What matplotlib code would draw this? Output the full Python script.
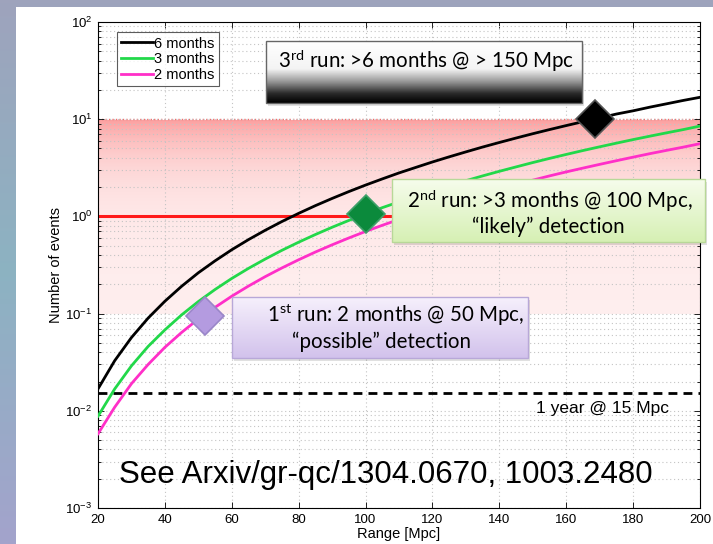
import numpy as np
import matplotlib
matplotlib.use("Agg")
import matplotlib.pyplot as plt
from matplotlib.patches import Rectangle
from matplotlib.ticker import LogLocator, NullFormatter

plt.rcParams['font.family'] = ['Liberation Sans', 'DejaVu Sans']
plt.rcParams['mathtext.fontset'] = 'custom'
plt.rcParams['mathtext.rm'] = 'Liberation Sans'
plt.rcParams['mathtext.it'] = 'Liberation Sans'
plt.rcParams['mathtext.default'] = 'regular'

# ---- data -------------------------------------------------------------
range_mpc = [20, 25, 30, 35, 40, 45, 50, 55, 60, 65, 70, 75, 80, 85, 90, 95,
             100, 105, 110, 115, 120, 125, 130, 135, 140, 145, 150, 155, 160,
             165, 170, 175, 180, 185, 190, 195, 200]
events_6mo = [0.0168, 0.0328, 0.0567, 0.090, 0.134, 0.191, 0.263, 0.349, 0.454,
              0.577, 0.720, 0.886, 1.075, 1.29, 1.53, 1.80, 2.10, 2.43, 2.80,
              3.19, 3.63, 4.10, 4.61, 5.17, 5.76, 6.40, 7.09, 7.82, 8.60, 9.43,
              10.3, 11.3, 12.2, 13.3, 14.4, 15.6, 16.8]
events_3mo = [0.0088, 0.0168, 0.029, 0.046, 0.068, 0.097, 0.133, 0.177, 0.230,
              0.292, 0.364, 0.448, 0.543, 0.651, 0.773, 0.909, 1.06, 1.23, 1.41,
              1.61, 1.83, 2.07, 2.33, 2.61, 2.91, 3.23, 3.58, 3.95, 4.34, 4.76,
              5.20, 5.67, 6.17, 6.69, 7.24, 7.82, 8.50]
events_2mo = [0.0058, 0.0109, 0.019, 0.030, 0.045, 0.064, 0.088, 0.116, 0.151,
              0.192, 0.240, 0.295, 0.358, 0.43, 0.51, 0.60, 0.70, 0.81, 0.93,
              1.06, 1.21, 1.37, 1.54, 1.72, 1.92, 2.13, 2.36, 2.61, 2.87, 3.14,
              3.43, 3.74, 4.07, 4.42, 4.78, 5.16, 5.60]
series_labels = ['6 months', '3 months', '2 months']
series_colors = ['#000000', '#22d84a', '#ff2fc8']

band_low, band_high = 0.1, 10.0          # "likely" region
one_event = 1.0
one_event_range = [20, 115]
one_year_15mpc = 0.0153                  # 1 year @ 15 Mpc

run_ranges = [52, 100, 168.6]            # 1st, 2nd, 3rd run
run_events = [0.095, 1.07, 10.0]
run_colors = ['#b49be0', '#0b8a3c', '#000000']
run_edges = ['#9a86c8', '#3fa06a', '#555555']

W, H = 713, 544
fig = plt.figure(figsize=(W / 100, H / 100), dpi=100)

# ---- slide background ---------------------------------------------------
bg = fig.add_axes([0, 0, 1, 1], zorder=-5)
bg.set_xlim(0, W); bg.set_ylim(H, 0); bg.axis('off')
yy = np.linspace(0, 1, 200)[:, None]
c_top = np.array([0.62, 0.64, 0.74])
c_mid = np.array([0.55, 0.70, 0.76])
c_bot = np.array([0.64, 0.64, 0.80])
t = yy[:, :, None]
grad = np.where(t < 0.5, c_top + (c_mid - c_top) * (t / 0.5),
                c_mid + (c_bot - c_mid) * ((t - 0.5) / 0.5))
grad = np.repeat(grad, 2, axis=1)
bg.imshow(grad, extent=[0, W, H, 0], aspect='auto')
bg.add_patch(Rectangle((16, 7), W - 16, H - 7, facecolor='white', edgecolor='none'))

# ---- main axes ----------------------------------------------------------
x0, x1, ytop, ybot = 98, 700, 22, 508
ax = fig.add_axes([x0 / W, 1 - ybot / H, (x1 - x0) / W, (ybot - ytop) / H])
ax.set_yscale('log')
ax.set_xlim(20, 200); ax.set_ylim(1e-3, 1e2)

# shaded band with a vertical fade (strong at top, light at bottom)
n = 256
fade = np.linspace(0, 1, n)[:, None]          # 0 at bottom, 1 at top
rgba = np.zeros((n, 2, 4))
rgba[..., 0] = 0.97
rgba[..., 1] = 0.05
rgba[..., 2] = 0.05
rgba[..., 3] = 0.07 + 0.33 * fade
ax.imshow(rgba, extent=[20, 200, band_low, band_high], origin='lower',
          aspect='auto', zorder=0.5, interpolation='bilinear')
ax.axhline(band_high, color='#f07070', lw=1.0, ls=(0, (1, 1.5)), zorder=0.6)

ax.set_xticks(range(20, 201, 20))
ax.yaxis.set_major_locator(LogLocator(base=10, numticks=10))
ax.yaxis.set_minor_locator(LogLocator(base=10, subs=np.arange(2, 10), numticks=20))
ax.yaxis.set_minor_formatter(NullFormatter())
ax.grid(True, which='major', color='#c4c4c4', lw=0.8, ls=(0, (1, 2.5)), zorder=0.3)
ax.grid(True, which='minor', axis='y', color='#c4c4c4', lw=0.8, ls=(0, (1, 2.5)), zorder=0.3)
ax.tick_params(which='both', direction='in', top=True, right=True,
               labelsize=9.5, length=4, width=0.6, pad=4)
ax.tick_params(which='minor', length=2)
for s in ax.spines.values():
    s.set_linewidth(0.8)

ax.plot(one_event_range, [one_event, one_event], color='#ff1a1a', lw=2.2, zorder=2)
ax.axhline(one_year_15mpc, color='black', lw=2.0, ls=(0, (3.2, 2.2)), zorder=2)

for ys, lab, col in zip([events_6mo, events_3mo, events_2mo], series_labels, series_colors):
    ax.plot(range_mpc, ys, color=col, lw=2.0, label=lab, zorder=3)

for xr, yr, fc, ec in zip(run_ranges, run_events, run_colors, run_edges):
    ax.plot(xr, yr, marker='D', ms=19, mfc=fc, mec=ec, mew=1.2, zorder=5,
            clip_on=False)

ax.text(190.7, 0.0105, '1 year @ 15 Mpc', ha='right', va='center', fontsize=12.5, zorder=4)
ax.text(106, 0.0022, 'See Arxiv/gr-qc/1304.0670, 1003.2480', ha='center',
        va='center', fontsize=22.5, zorder=4)

ax.set_xlabel('Range [Mpc]', fontsize=10.5, labelpad=1)
ax.set_ylabel('Number of events', fontsize=10.5, labelpad=2)

leg = ax.legend(loc='upper left', bbox_to_anchor=(0.031, 0.979), fontsize=10.5,
                frameon=True, fancybox=False, edgecolor='#333333',
                handlelength=2.2, handletextpad=0.05, labelspacing=0.12,
                borderpad=0.3, borderaxespad=0)
leg.get_frame().set_linewidth(0.8)
leg.set_zorder(6)

# ---- callout boxes (overlay, pixel coordinates) -------------------------
ov = fig.add_axes([0, 0, 1, 1], zorder=10)
ov.set_xlim(0, W); ov.set_ylim(H, 0); ov.axis('off')
ov.patch.set_alpha(0)


def grad_box(l, t, r, b, stops, edge):
    h = 100
    pos = np.linspace(0, 1, h)
    ps = [p for p, _ in stops]
    cols = np.array([c for _, c in stops])
    img = np.stack([np.interp(pos, ps, cols[:, k]) for k in range(3)], axis=-1)
    img = np.repeat(img[:, None, :], 2, axis=1)
    ov.add_patch(Rectangle((l + 2, t + 3), r - l, b - t, facecolor='#000000',
                           alpha=0.12, edgecolor='none', zorder=1))
    ov.imshow(img, extent=[l, r, b, t], aspect='auto', zorder=2, interpolation='bilinear')
    ov.add_patch(Rectangle((l, t), r - l, b - t, facecolor='none',
                           edgecolor=edge, lw=1.0, zorder=3))


def to_rgb(hexs):
    return np.array(matplotlib.colors.to_rgb(hexs))


grad_box(266, 41, 582, 103,
         [(0, to_rgb('#ffffff')), (0.45, to_rgb('#f4f4f4')), (0.65, to_rgb('#9a9a9a')),
          (0.85, to_rgb('#2a2a2a')), (1, to_rgb('#000000'))], '#666666')
grad_box(392, 179, 705, 242,
         [(0, to_rgb('#f6fcec')), (1, to_rgb('#d6f0b4'))], '#b8d898')
grad_box(232, 297, 528, 358,
         [(0, to_rgb('#f6f0fc')), (1, to_rgb('#d2c2ec'))], '#b8a8d8')

box_font = ['Lato', 'DejaVu Sans']
fs = 14.8
ov.text(426, 61, '3$^{rd}$ run: >6 months @ > 150 Mpc', ha='center', va='center',
        fontsize=fs, family=box_font, zorder=4)
ov.text(550, 201, '2$^{nd}$ run: >3 months @ 100 Mpc,', ha='center', va='center',
        fontsize=fs, family=box_font, zorder=4)
ov.text(548, 227, '\u201clikely\u201d detection', ha='center', va='center',
        fontsize=fs, family=box_font, zorder=4)
ov.text(396, 315, '1$^{st}$ run: 2 months @ 50 Mpc,', ha='center', va='center',
        fontsize=fs, family=box_font, zorder=4)
ov.text(381, 342, '\u201cpossible\u201d detection', ha='center', va='center',
        fontsize=fs, family=box_font, zorder=4)

fig.savefig('out.png', dpi=100)
